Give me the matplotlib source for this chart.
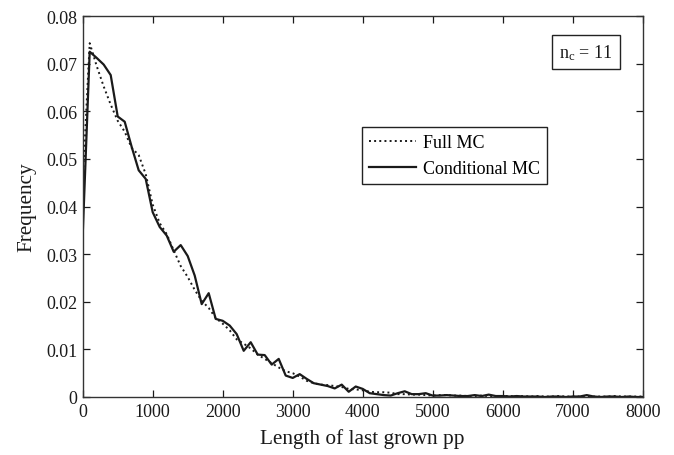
import matplotlib
matplotlib.use("Agg")
import matplotlib.pyplot as plt
from matplotlib.ticker import FuncFormatter

plt.rcParams['font.family'] = ['Liberation Serif', 'DejaVu Serif']
plt.rcParams['mathtext.fontset'] = 'custom'
plt.rcParams['mathtext.rm'] = 'Liberation Serif'
plt.rcParams['mathtext.it'] = 'Liberation Serif:italic'

# histogram bin positions (length of last grown pp)
lengths = list(range(0, 8100, 100))

full_mc = [
    0.0450, 0.0743, 0.0695, 0.0652, 0.0614, 0.0580, 0.0557, 0.0523, 0.0508, 0.0468,
    0.0404, 0.0365, 0.0342, 0.0308, 0.0275, 0.0252, 0.0225, 0.0202, 0.0187, 0.0166,
    0.0154, 0.0140, 0.0121, 0.0112, 0.0102, 0.0089, 0.0080, 0.0071, 0.0062, 0.0054,
    0.0050, 0.0043, 0.0034, 0.0029, 0.0026, 0.0025, 0.0023, 0.0021, 0.0017, 0.0016,
    0.0014, 0.0011, 0.0010, 0.0010, 0.0009, 0.0006, 0.0006, 0.0005, 0.0005, 0.0004,
    0.0003, 0.0004, 0.0004, 0.0003, 0.0003, 0.0002, 0.0002, 0.0003, 0.0002, 0.0002,
    0.0002, 0.0002, 0.0001, 0.0002, 0.0001, 0.0002, 0.0001, 0.0001, 0.0002, 0.0001,
    0.0001, 0.0001, 0.0002, 0.0001, 0.0001, 0.0001, 0.0002, 0.0001, 0.0001, 0.0001,
    0.0001,
]

conditional_mc = [
    0.0340, 0.0725, 0.0712, 0.0698, 0.0676, 0.0589, 0.0578, 0.0525, 0.0476, 0.0458,
    0.0388, 0.0357, 0.0339, 0.0305, 0.0319, 0.0296, 0.0255, 0.0195, 0.0218, 0.0164,
    0.0160, 0.0150, 0.0132, 0.0097, 0.0115, 0.0089, 0.0088, 0.0068, 0.0080, 0.0045,
    0.0040, 0.0048, 0.0038, 0.0029, 0.0026, 0.0023, 0.0018, 0.0026, 0.0011, 0.0022,
    0.0017, 0.0008, 0.0006, 0.0004, 0.0003, 0.0008, 0.0012, 0.0006, 0.0006, 0.0008,
    0.0003, 0.0003, 0.0004, 0.0003, 0.0002, 0.0002, 0.0004, 0.0002, 0.0005, 0.0002,
    0.0002, 0.0001, 0.0002, 0.0001, 0.0001, 0.0001, 0.0000, 0.0001, 0.0001, 0.0000,
    0.0001, 0.0001, 0.0004, 0.0001, 0.0000, 0.0001, 0.0001, 0.0000, 0.0001, 0.0000,
    0.0000,
]

x_ticks = list(range(0, 9000, 1000))
y_ticks = [0, 0.01, 0.02, 0.03, 0.04, 0.05, 0.06, 0.07, 0.08]

fig = plt.figure(figsize=(6.74, 4.56), dpi=100)
ax = fig.add_axes([0.1227, 0.1272, 0.8309, 0.8355])

ink = '#1a1a1a'
ax.plot(lengths, full_mc, linestyle=':', color=ink, linewidth=1.4, label='Full MC')
ax.plot(lengths, conditional_mc, linestyle='-', color=ink, linewidth=1.6, label='Conditional MC')

ax.set_xlim(0, 8000)
ax.set_ylim(0, 0.08)
ax.set_xticks(x_ticks)
ax.set_yticks(y_ticks)
ax.yaxis.set_major_formatter(FuncFormatter(lambda v, _: '0' if v == 0 else f'{v:.2f}'))
ax.tick_params(direction='in', length=5, width=0.9, top=True, right=True,
               labelsize=13, colors=ink, pad=4)
for spine in ax.spines.values():
    spine.set_linewidth(1.0)
    spine.set_color('#333333')

ax.set_xlabel('Length of last grown pp', fontsize=15.3, color=ink, labelpad=6)
ax.set_ylabel('Frequency', fontsize=15.3, color=ink, labelpad=7)

leg = ax.legend(loc='upper left', bbox_to_anchor=(0.499, 0.709), fontsize=13,
                frameon=True, fancybox=False, edgecolor='#222222', framealpha=1,
                handlelength=2.6, handletextpad=0.35, borderpad=0.4, labelspacing=0.5,
                borderaxespad=0)
leg.get_frame().set_linewidth(1.0)

ax.text(0.899, 0.906, r'$\mathregular{n_c}$ = 11', transform=ax.transAxes,
        ha='center', va='center', fontsize=13, color=ink,
        bbox=dict(boxstyle='square,pad=0.4', facecolor='white', edgecolor='#222222', linewidth=1.0))

fig.savefig('out.png', dpi=100)
